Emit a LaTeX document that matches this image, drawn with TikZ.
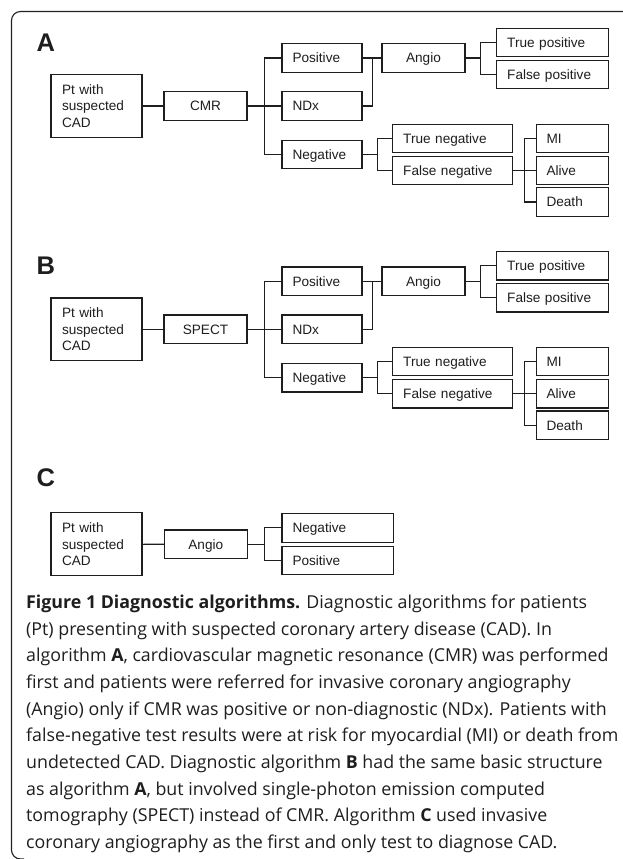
\documentclass[tikz,border=0pt]{standalone}
\usepackage{fontspec}
\setmainfont{Liberation Sans}
\newfontfamily\capfont{Open Sans}
\definecolor{ink}{HTML}{1E1E1E}
\definecolor{framec}{HTML}{222222}
\tikzset{
  boxtext/.style={font=\fontsize{13.6}{16.6}\selectfont, text=ink},
  bx/.style={boxtext, draw=ink, line width=1.1pt, inner ysep=0pt, minimum height=28.5pt, text height=9.7pt, text depth=0pt},
  lbx/.style={bx, align=left, inner xsep=10.5pt},
  cbx/.style={bx, inner xsep=0pt, minimum width=83pt},
  ptbox/.style={boxtext, draw=ink, line width=1.1pt, align=left, inner xsep=11pt, inner ysep=0pt, text width=69pt, minimum height=62.5pt},
  lab/.style={font=\fontsize{25.5}{25.5}\selectfont\bfseries, text=ink, anchor=base west, inner sep=0pt},
  ln/.style={draw=ink, line width=1.1pt},
}
\newcommand\panelAB[4]{%
\begin{scope}[yshift=#2]
\node[lab] (lab#1) at (36.5,51.7) {#4};
\node[ptbox] (pt#1) at (96.5,106) {Pt with\\suspected\\CAD};
\node[cbx] (test#1) at (205.5,106) {#3};
\node[lbx, text width=59pt] (pos#1) at (322,58) {Positive};
\node[lbx, text width=59pt] (ndx#1) at (322,106) {NDx};
\node[lbx, text width=59pt] (neg#1) at (322,154.5) {Negative};
\node[cbx] (ang#1) at (423.5,58) {Angio};
\node[lbx, text width=90.6pt] (tp#1) at (552.5,42.5) {True positive};
\node[lbx, text width=90.6pt] (fp#1) at (552.5,74.5) {False positive};
\node[lbx, text width=98.6pt] (tn#1) at (452.5,138.3) {True negative};
\node[lbx, text width=98.6pt] (fn#1) at (452.5,170.5) {False negative};
\node[lbx, text width=51.3pt] (mi#1) at (572.2,138.3) {MI};
\node[lbx, text width=51.3pt] (al#1) at (572.2,170.5) {Alive};
\node[lbx, text width=51.3pt] (de#1) at (572.2,202) {Death};
\coordinate (ja#1) at (264.3,106);
\coordinate (jb#1) at (372.7,58);
\coordinate (jc#1) at (480.7,58);
\coordinate (jd#1) at (377.3,154.5);
\coordinate (je#1) at (524.3,170.5);
\draw[ln] (pt#1.east) -- (test#1.west);
\draw[ln] (test#1.east) -- (ja#1);
\draw[ln] (pos#1.west) -| (ja#1) |- (neg#1.west);
\draw[ln] (ja#1) -- (ndx#1.west);
\draw[ln] (pos#1.east) -- (ang#1.west);
\draw[ln] (ndx#1.east) -| (jb#1);
\draw[ln] (ang#1.east) -- (jc#1);
\draw[ln] (tp#1.west) -| (jc#1) |- (fp#1.west);
\draw[ln] (neg#1.east) -- (jd#1);
\draw[ln] (tn#1.west) -| (jd#1) |- (fn#1.west);
\draw[ln] (fn#1.east) -- (al#1.west);
\draw[ln] (mi#1.west) -| (je#1) |- (de#1.west);
\end{scope}}
\begin{document}
\begin{tikzpicture}[x=1pt,y=-1pt]
\useasboundingbox (0,0) rectangle (622,859);
\fill[white] (0,0) rectangle (622,859);
\draw[draw=framec, line width=1.1pt, rounded corners=9pt] (623,11.5) -- (11.5,11.5) -- (11.5,859) -- (24,859);
\panelAB{A}{0pt}{CMR}{A}
\panelAB{B}{-223.2pt}{SPECT}{B}
% panel C
\node[lab] (labC) at (36.5,486.5) {C};
\node[ptbox, minimum height=63pt] (ptC) at (96.5,544.3) {Pt with\\suspected\\CAD};
\node[cbx] (angC) at (205.8,544.2) {Angio};
\node[lbx, text width=90.3pt] (negC) at (337.65,527.8) {Negative};
\node[lbx, text width=90.3pt] (posC) at (337.65,560.5) {Positive};
\coordinate (jaC) at (264.3,544.2);
\draw[ln] (ptC.east) -- (angC.west);
\draw[ln] (angC.east) -- (jaC);
\draw[ln] (negC.west) -| (jaC) |- (posC.west);
% caption
\node[anchor=north west, inner sep=0pt, align=left, text=ink, font=\capfont\fontsize{17.8}{26.7}\selectfont] (cap) at (26,594.5) {%
\textbf{Figure 1 Diagnostic algorithms.} Diagnostic algorithms for patients\\
(Pt) presenting with suspected coronary artery disease (CAD). In\\
algorithm \textbf{A}, cardiovascular magnetic resonance (CMR) was performed\\
first and patients were referred for invasive coronary angiography\\
(Angio) only if CMR was positive or non-diagnostic (NDx). Patients with\\
false-negative test results were at risk for myocardial (MI) or death from\\
undetected CAD. Diagnostic algorithm \textbf{B} had the same basic structure\\
as algorithm \textbf{A}, but involved single-photon emission computed\\
tomography (SPECT) instead of CMR. Algorithm \textbf{C} used invasive\\
coronary angiography as the first and only test to diagnose CAD.};
\end{tikzpicture}
\end{document}
